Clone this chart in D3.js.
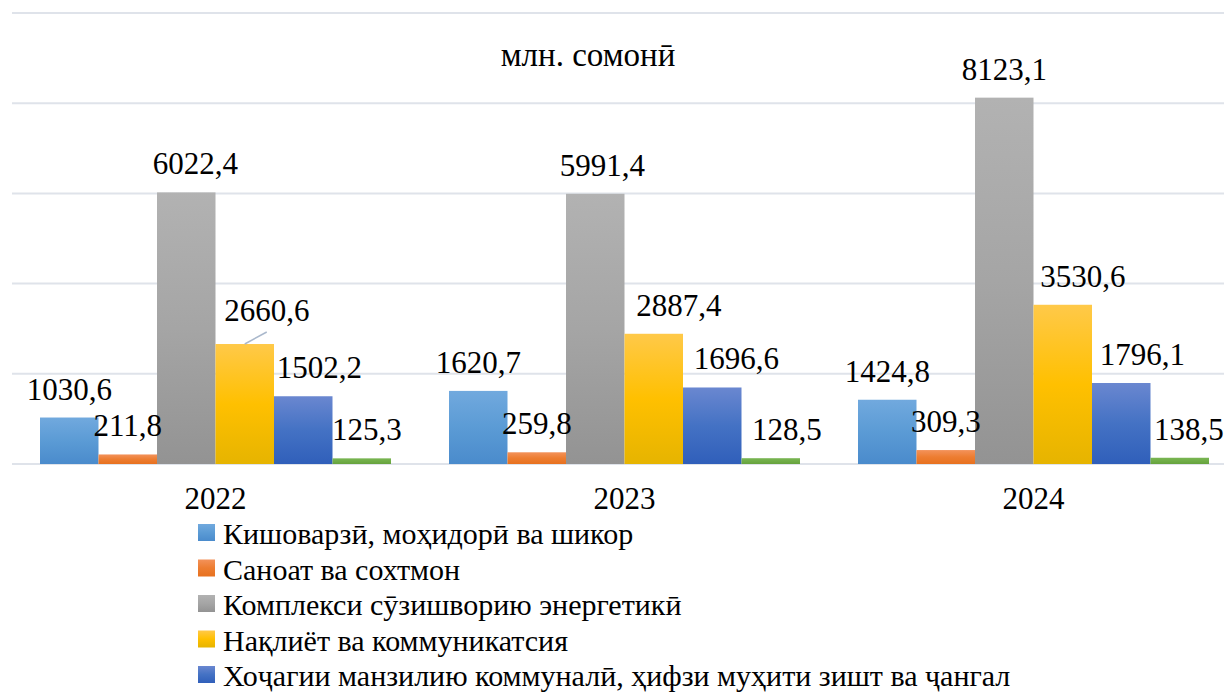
<!DOCTYPE html>
<html>
<head>
<meta charset="utf-8">
<script src="https://cdn.jsdelivr.net/npm/d3@7"></script>
<style>
  html, body { margin: 0; padding: 0; background: #fff; }
</style>
</head>
<body>
<svg id="chart"></svg>
<script>
var years = ["2022", "2023", "2024"];
var seriesNames = [
  "Кишоварзӣ, моҳидорӣ ва шикор",
  "Саноат ва сохтмон",
  "Комплекси сӯзишворию энергетикӣ",
  "Нақлиёт ва коммуникатсия",
  "Хоҷагии манзилию коммуналӣ, ҳифзи муҳити зишт ва ҷангал",
  "Дигар"
];
var agriculture = [1030.6, 1620.7, 1424.8];
var industry = [211.8, 259.8, 309.3];
var energy = [6022.4, 5991.4, 8123.1];
var transport = [2660.6, 2887.4, 3530.6];
var housing = [1502.2, 1696.6, 1796.1];
var other = [125.3, 128.5, 138.5];
var yTicks = [0, 2000, 4000, 6000, 8000, 10000];

// colour stops for each series: top, middle, bottom
var colors = [
  ["#71a9de", "#5b9bd5", "#4a8bcc"],
  ["#f3925a", "#ed7d31", "#e7711f"],
  ["#b2b2b2", "#a5a5a5", "#939393"],
  ["#ffc949", "#ffc000", "#e6b400"],
  ["#6a87d0", "#4472c4", "#305fba"],
  ["#79b553", "#70ad47", "#66a23d"]
];
// hand-moved data labels (x nudge, per series per year)
var labelNudge = [
  [0, 0, 0],
  [0, 0, 0],
  [9, 7, 0],
  [22, 25, 20],
  [16, 24, 21],
  [5, 16, 9]
];

var width = 1224, height = 694;
var svg = d3.select("#chart").attr("width", width).attr("height", height);
var font = "Times New Roman, Liberation Serif, serif";

var values = [agriculture, industry, energy, transport, housing, other];
var data = years.map(function(y, i) {
  return { year: y, vals: values.map(function(v, s) { return { s: s, v: v[i], i: i }; }) };
});

var x0 = d3.scaleBand().domain(years).range([11, 1238]).padding(0);
var x1 = d3.scaleBand().domain(d3.range(6)).range([29, x0.bandwidth() - 29]).padding(0);
var y = d3.scaleLinear().domain([0, 10000]).range([464, 13]);

var defs = svg.append("defs");
colors.forEach(function(c, s) {
  var g = defs.append("linearGradient").attr("id", "grad" + s)
    .attr("x1", 0).attr("y1", 0).attr("x2", 0).attr("y2", 1);
  g.append("stop").attr("offset", "0%").attr("stop-color", c[0]);
  g.append("stop").attr("offset", "50%").attr("stop-color", c[1]);
  g.append("stop").attr("offset", "100%").attr("stop-color", c[2]);
});

// gridlines
svg.append("g").selectAll("line").data(yTicks).enter().append("line")
  .attr("x1", 12).attr("x2", width)
  .attr("y1", function(d) { return y(d); }).attr("y2", function(d) { return y(d); })
  .attr("stroke", "#dfe3ea").attr("stroke-width", 2);

svg.append("text").attr("x", 588).attr("y", 66).attr("text-anchor", "middle")
  .style("font-family", font)
  .attr("font-size", 33).attr("fill", "#000").text("млн. сомонӣ");

var group = svg.selectAll("g.year").data(data).enter().append("g")
  .attr("class", "year")
  .attr("transform", function(d) { return "translate(" + x0(d.year) + ",0)"; });

group.selectAll("rect").data(function(d) { return d.vals; }).enter().append("rect")
  .attr("x", function(d) { return x1(d.s); })
  .attr("width", x1.bandwidth())
  .attr("y", function(d) { return y(d.v); })
  .attr("height", function(d) { return y(0) - y(d.v); })
  .attr("fill", function(d) { return "url(#grad" + d.s + ")"; });

// leader line for the moved 2660,6 label
var lx = x0(years[0]) + x1(3) + x1.bandwidth() / 2;
svg.append("line")
  .attr("x1", lx).attr("y1", y(transport[0]))
  .attr("x2", lx + 22).attr("y2", y(transport[0]) - 12)
  .attr("stroke", "#aab8cc").attr("stroke-width", 1.5);

group.selectAll("text.val").data(function(d) { return d.vals; }).enter().append("text")
  .attr("class", "val")
  .attr("x", function(d) { return x1(d.s) + x1.bandwidth() / 2 + labelNudge[d.s][d.i]; })
  .attr("y", function(d) { return y(d.v) - (d.s === 3 && d.i === 0 ? 23 : 18); })
  .attr("text-anchor", "middle")
  .style("font-family", font)
  .attr("font-size", 31).attr("fill", "#000")
  .text(function(d) { return d3.format(".1f")(d.v).replace(".", ","); });

svg.selectAll("text.yr").data(years).enter().append("text")
  .attr("class", "yr")
  .attr("x", function(d) { return x0(d) + x0.bandwidth() / 2; })
  .attr("y", 509).attr("text-anchor", "middle")
  .style("font-family", font)
  .attr("font-size", 31).attr("fill", "#000")
  .text(function(d) { return d; });

// legend (only the rows that fit inside the picture)
var legend = svg.append("g").selectAll("g").data(seriesNames.slice(0, 5)).enter().append("g")
  .attr("transform", function(d, i) { return "translate(198," + (544 + i * 35.5) + ")"; });
legend.append("rect").attr("x", 0).attr("y", -20).attr("width", 17).attr("height", 17)
  .attr("fill", function(d, i) { return "url(#grad" + i + ")"; });
legend.append("text").attr("x", 25).attr("y", 0)
  .style("font-family", font)
  .attr("font-size", 30).attr("fill", "#000")
  .text(function(d) { return d; });
</script>
</body>
</html>
